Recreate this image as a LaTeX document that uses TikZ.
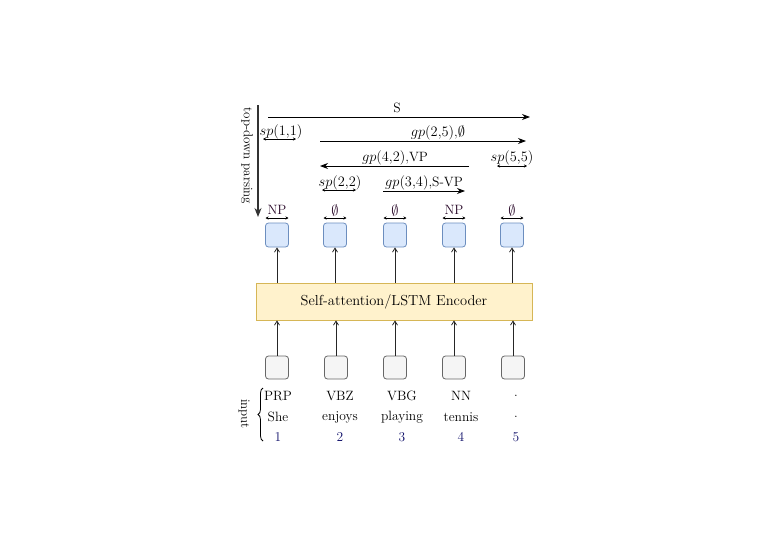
\documentclass[tikz,border=0pt]{standalone}
\usepackage{amsmath,amssymb}
\usetikzlibrary{arrows.meta,decorations.pathreplacing,positioning}

\definecolor{encfill}{HTML}{FFF2CC}
\definecolor{encdraw}{HTML}{D6B656}
\definecolor{outfill}{HTML}{DAE8FC}
\definecolor{outdraw}{HTML}{6C8EBF}
\definecolor{infill}{HTML}{F5F5F5}
\definecolor{indraw}{HTML}{666666}
\definecolor{idxblue}{HTML}{10106A}
\definecolor{labdark}{HTML}{2A0A2A}

\tikzset{
  outbox/.style={draw=outdraw, fill=outfill, rounded corners=3pt, line width=0.8pt,
    minimum width=23pt, minimum height=24pt, inner sep=0pt},
  inbox/.style={draw=indraw, fill=infill, rounded corners=3pt, line width=0.8pt,
    minimum width=23pt, minimum height=23pt, inner sep=0pt},
  feed/.style={-{Straight Barb[length=4pt,width=5pt]}, line width=0.8pt, black!85},
  spanarrow/.style={-{Stealth[length=8pt,width=6pt]}, line width=0.9pt},
  tinyspan/.style={{Stealth[length=3pt,width=3pt]}-{Stealth[length=3pt,width=3pt]}, line width=0.6pt},
}

\begin{document}
\begin{tikzpicture}[x=1pt, y=-1pt, font=\fontsize{13.5}{15}\selectfont]

  % Cadre de l'image
  \useasboundingbox (0,0) rectangle (780,549);

  % ==========================================
  % SECTION 1 : DECODAGE DESCENDANT (EN HAUT)
  % ==========================================
  % Fleche verticale du parsing
  \draw[-{Stealth[length=9pt,width=7pt]}, line width=1.3pt, black!80] (258,105) -- (258,217);
  \node[rotate=-90, font=\fontsize{13}{15}\selectfont] (parselab) at (247,156) {top-down parsing};

  % Span de la phrase entiere
  \draw[spanarrow] (268,117) -- (530,117);
  \node (spanS) at (397,108) {S};

  % sp(1,1)
  \node (sp11) at (281,132) {$sp(1{,}1)$};
  \draw[tinyspan] (263,139) -- (296,139);

  % gp(2,5)
  \draw[spanarrow] (320,141) -- (526,141);
  \node (gp25) at (438,133) {$gp(2{,}5)$,$\emptyset$};

  % gp(4,2) vers la gauche
  \draw[spanarrow] (469,166) -- (320,166);
  \node (gp42) at (395,158) {$gp(4{,}2)$,VP};

  % sp(5,5)
  \node (sp55) at (512,158) {$sp(5{,}5)$};
  \draw[tinyspan] (497,166) -- (527,166);

  % sp(2,2)
  \node (sp22) at (340,183) {$sp(2{,}2)$};
  \draw[tinyspan] (322,190) -- (356,190);

  % gp(3,4)
  \draw[spanarrow] (383,191) -- (465,191);
  \node (gp34) at (424,183) {$gp(3{,}4)$,S-VP};

  % ==========================================
  % SECTION 2 : ENCODEUR ET SORTIES
  % ==========================================
  \node[draw=encdraw, fill=encfill, line width=0.8pt, minimum width=276pt, minimum height=37pt,
    font=\fontsize{14.5}{16}\selectfont]
    (enc) at (394,301.5) {Self-attention/LSTM Encoder};

  % Boites de sortie, etiquettes et fleches
  \foreach \x/\lab [count=\k] in {277/NP, 335/$\emptyset$, 395/$\emptyset$, 454/NP, 512/$\emptyset$} {
    \node[outbox] (o\k) at (\x,235) {};
    \node[text=labdark, inner sep=1pt] (olab\k) at (\x,210) {\lab};
    \draw[tinyspan] (\x-11.5,218) -- (\x+11.5,218);
    \draw[feed] (o\k.south |- enc.north) -- (o\k.south);
  }

  % ==========================================
  % SECTION 3 : ENTREE (EN BAS)
  % ==========================================
  \foreach \x [count=\k] in {277,336,395,454,513} {
    \node[inbox] (i\k) at (\x,367.5) {};
    \draw[feed] (i\k.north) -- (i\k.north |- enc.south);
  }

  % Etiquettes, mots et positions
  \foreach \x/\tag/\word [count=\k] in {278/PRP/She, 340/VBZ/enjoys, 402/VBG/playing, 461/NN/tennis, 516/./.} {
    \node (tag\k) at (\x,396) {\tag};
    \node (word\k) at (\x,417) {\word};
    \node[text=idxblue] (idx\k) at (\x,437) {\k};
  }

  % Accolade de l'entree
  \draw[decorate, decoration={brace, amplitude=5pt}, line width=0.8pt] (263,441) -- (263,388);
  \node[rotate=-90, font=\fontsize{13}{15}\selectfont] (inlab) at (244,414) {input};

\end{tikzpicture}
\end{document}
